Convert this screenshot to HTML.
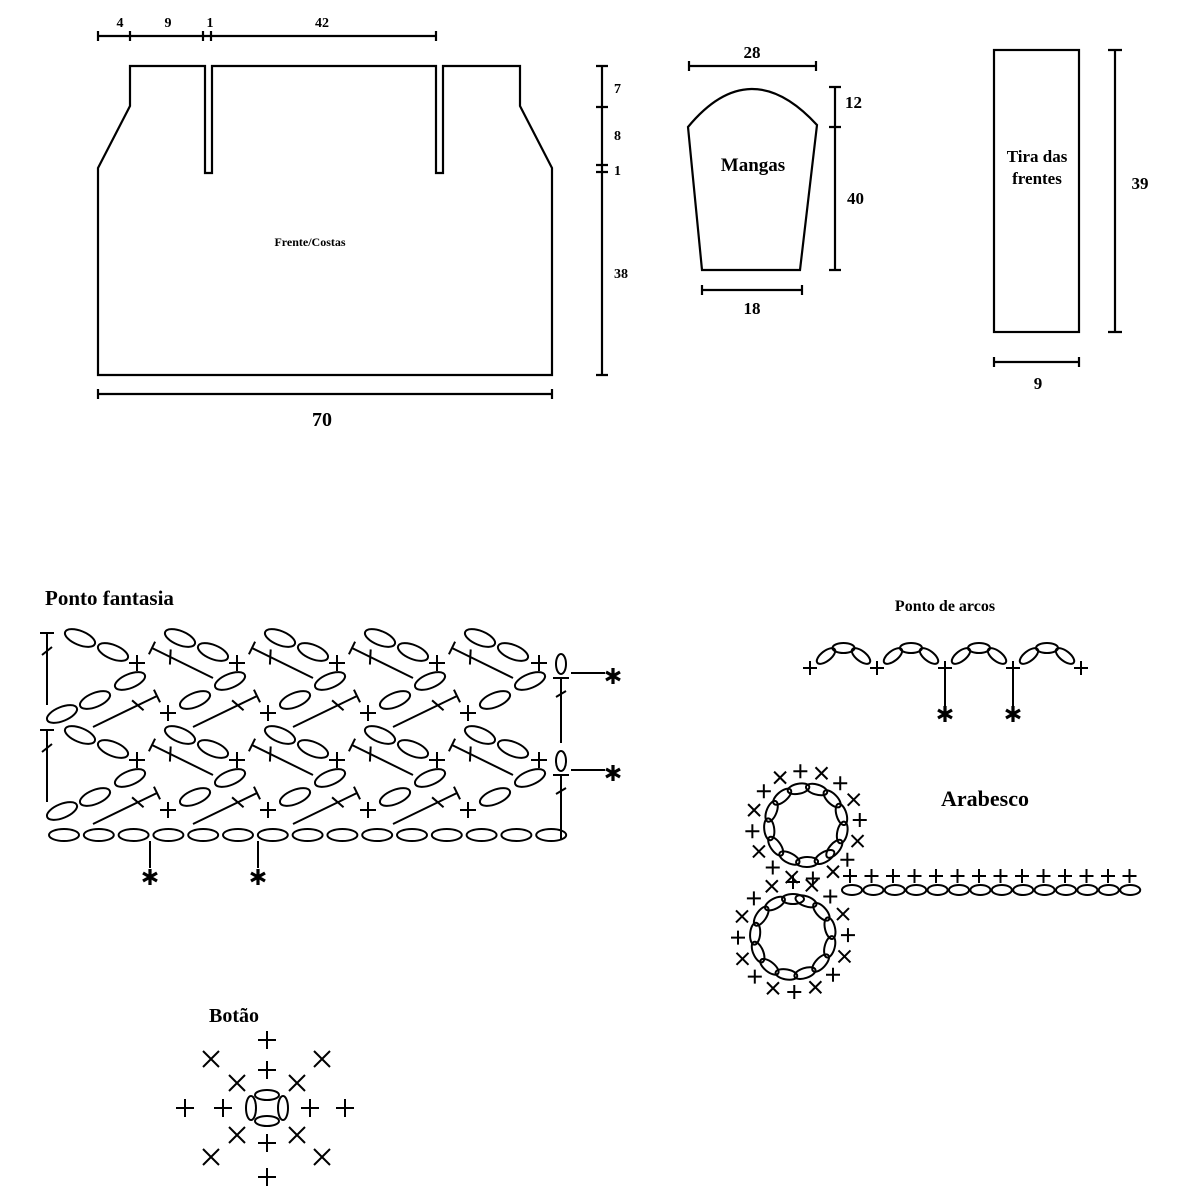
<!DOCTYPE html>
<html><head><meta charset="utf-8">
<style>
html,body{margin:0;padding:0;background:#fff;}
svg{display:block;}
text{font-family:"Liberation Serif",serif;font-weight:bold;fill:#000;}
</style></head>
<body>
<svg id="s" xmlns="http://www.w3.org/2000/svg" width="1200" height="1200" viewBox="0 0 1200 1200">
<g fill="none" stroke="#000" stroke-width="2.2">
<path d="M98,375 L98,168 L130,106 L130,66 L205,66 L205,173 L212,173 L212,66 L436,66 L436,173 L443,173 L443,66 L520,66 L520,106 L552,168 L552,375 Z"/>
<path d="M98,36 H436 M98,31 V41 M130,31 V41 M203,31 V41 M211,31 V41 M436,31 V41"/>
<path d="M98,394 H552 M98,389 V399 M552,389 V399"/>
<path d="M602,66 V375 M596,66 H608 M596,107 H608 M596,165 H608 M596,172 H608 M596,375 H608"/>
<path d="M702,270 L800,270 L817,125 Q750,52 688,127 Z"/>
<path d="M689,66 H816 M689,61 V71 M816,61 V71"/>
<path d="M835,87 V270 M829,87 H841 M829,127 H841 M829,270 H841"/>
<path d="M702,290 H802 M702,285 V295 M802,285 V295"/>
<rect x="994" y="50" width="85" height="282"/>
<path d="M1115,50 V332 M1108,50 H1122 M1108,332 H1122"/>
<path d="M994,362 H1079 M994,357 V367 M1079,357 V367"/>
</g>
<g font-size="14">
<text x="120" y="27" text-anchor="middle">4</text>
<text x="168" y="27" text-anchor="middle">9</text>
<text x="210" y="27" text-anchor="middle">1</text>
<text x="322" y="27" text-anchor="middle">42</text>
<text x="614" y="93">7</text>
<text x="614" y="140">8</text>
<text x="614" y="175">1</text>
<text x="614" y="278">38</text>
<text x="310" y="246" text-anchor="middle" font-size="12">Frente/Costas</text>
</g>
<text x="322" y="426" text-anchor="middle" font-size="20">70</text>
<g font-size="17">
<text x="752" y="58" text-anchor="middle">28</text>
<text x="845" y="108">12</text>
<text x="847" y="204">40</text>
<text x="752" y="314" text-anchor="middle">18</text>
<text x="753" y="171" text-anchor="middle" font-size="19">Mangas</text>
<text x="1037" y="162" text-anchor="middle">Tira das</text>
<text x="1037" y="184" text-anchor="middle">frentes</text>
<text x="1140" y="189" text-anchor="middle">39</text>
<text x="1038" y="389" text-anchor="middle">9</text>
</g>
<text x="45" y="605" font-size="21">Ponto fantasia</text>
<text x="945" y="611" text-anchor="middle" font-size="16">Ponto de arcos</text>
<text x="985" y="806" text-anchor="middle" font-size="22">Arabesco</text>
<text x="234" y="1022" text-anchor="middle" font-size="20">Botão</text>
<g id="g" fill="none" stroke="#000" stroke-width="2"></g>
</svg>
<script>
var g=document.getElementById('g'),h='';
function ov(x,y,rx,ry,a){h+='<ellipse cx="'+x+'" cy="'+y+'" rx="'+rx+'" ry="'+ry+'" transform="rotate('+(a||0)+' '+x+' '+y+')"/>';}
function pl(x,y,s){s=s||8;h+='<path d="M'+(x-s)+','+y+'H'+(x+s)+'M'+x+','+(y-s)+'V'+(y+s)+'"/>';}
function xx(x,y,s){s=s||7;h+='<path d="M'+(x-s)+','+(y-s)+'L'+(x+s)+','+(y+s)+'M'+(x+s)+','+(y-s)+'L'+(x-s)+','+(y+s)+'"/>';}
function ln(a,b,c,d){h+='<path d="M'+a+','+b+'L'+c+','+d+'"/>';}
function ast(x,y){h+='<path stroke-width="3.2" d="M'+x+','+(y-8)+'V'+(y+8)+'M'+(x-7)+','+(y-4)+'L'+(x+7)+','+(y+4)+'M'+(x+7)+','+(y-4)+'L'+(x-7)+','+(y+4)+'"/>';}
function dc(x1,y1,x2,y2){ln(x1,y1,x2,y2);var dx=x2-x1,dy=y2-y1,L=Math.sqrt(dx*dx+dy*dy),ux=dx/L,uy=dy/L,px=-uy*7,py=ux*7;
 ln(x1+px,y1+py,x1-px,y1-py);var mx=x1+dx*0.3,my=y1+dy*0.3;ln(mx+px+ux*3,my+py+uy*3,mx-px-ux*3,my-py-uy*3);}
for(var i=0;i<15;i++)ov(64+i*34.8,835,15,6);
ln(150,841,150,868);ast(150,877);ln(258,841,258,868);ast(258,877);
for(var b=0;b<2;b++){var o=b*97;
 for(var k=0;k<5;k++){var x0=137+100*k;ov(x0-57,638+o,16,7,22);ov(x0-24,652+o,16,7,22);
  if(k<4){pl(x0,663+o);dc(x0+15,648+o,x0+76,678+o);} else pl(x0+2,663+o);}
 ov(62,714+o,16,7,-22);
 for(k=0;k<5;k++){ov(95+100*k,700+o,16,7,-22);ov(130+100*k,681+o,16,7,-22);
  if(k<4){pl(168+100*k,713+o);dc(157+100*k,696+o,93+100*k,727+o);}}
 ln(47,633+o,47,705+o);ln(40,633+o,54,633+o);ln(42,655+o,52,647+o);
 ov(561,664+o,5,10);ln(553,678+o,569,678+o);ln(561,678+o,561,743+o);ln(556,697+o,566,691+o);
 ln(571,673+o,605,673+o);ast(613,676+o);
}
var px=[810,877,945,1013,1081];
for(i=0;i<5;i++)pl(px[i],668,7);
for(i=0;i<4;i++){var a=px[i],c=px[i+1];ov(a+16,656,11,5,-38);ov((a+c)/2,648,11,5,0);ov(c-16,656,11,5,38);}
ln(945,675,945,708);ast(945,714);ln(1013,675,1013,708);ast(1013,714);
for(i=0;i<14;i++){ov(852+i*21.4,890,10,5);pl(850+i*21.5,876,7);}
function ring(cx,cy,r,R,a0,a1,n,m){for(var j=0;j<n;j++){var t=(a0+(a1-a0)*j/(n-1))*Math.PI/180;ov(cx+r*Math.cos(t),cy+r*Math.sin(t),11,5,t*180/Math.PI+90);}
 for(j=0;j<m;j++){t=(a0+(a1-a0)*j/(m-1))*Math.PI/180;var X=cx+R*Math.cos(t),Y=cy+R*Math.sin(t);if(j%2)pl(X,Y,7);else xx(X,Y,6);}}
ring(806,825,37,54,60,400,13,16);
ring(793,937,38,55,-70,270,13,16);
pl(267,1040,9);pl(267,1070,9);pl(267,1143,9);pl(267,1177,9);
pl(185,1108,9);pl(223,1108,9);pl(310,1108,9);pl(345,1108,9);
xx(211,1059,8);xx(322,1059,8);xx(237,1083,8);xx(297,1083,8);xx(237,1135,8);xx(297,1135,8);xx(211,1157,8);xx(322,1157,8);
ov(267,1095,12,5);ov(267,1121,12,5);ov(251,1108,5,12);ov(283,1108,5,12);
g.innerHTML=h;
</script>
</body></html>
